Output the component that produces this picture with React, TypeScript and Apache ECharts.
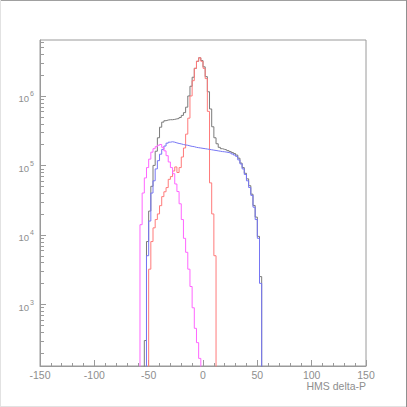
import React, { useEffect, useRef } from "react";
import * as echarts from "echarts";

// Bin left edges (HMS delta-P), bin width 2
const binEdges: number[] = [
  -60, -58, -56, -54, -52, -50, -48, -46, -44, -42, -40, -38, -36, -34, -32, -30,
  -28, -26, -24, -22, -20, -18, -16, -14, -12, -10, -8, -6, -4, -2, 0, 2, 4, 6,
  8, 10, 12, 14, 16, 18, 20, 22, 24, 26, 28, 30, 32, 34, 36, 38, 40, 42, 44, 46,
  48, 50, 52, 54, 56,
];
const binWidth = 2;

const totalCounts: number[] = [
  0, 0, 0, 300, 8000, 22000, 50000, 100000, 160000, 250000, 355000, 420000, 440000, 450000, 455000, 455000,
  460000, 468000, 473000, 490000, 525000, 575000, 690000, 1000000, 1380000, 1860000, 2500000, 3160000, 3550000, 3240000, 2630000, 1900000, 1150000, 650000,
  360000, 250000, 205000, 182000, 174000, 170000, 167000, 163000, 158000, 153000, 148000, 141000, 127000, 108000, 93000, 77000, 64000, 51000, 38500, 26500,
  18000, 9500, 2500, 0, 0,
];

const peakCounts: number[] = [
  0, 0, 0, 0, 0, 3200, 8000, 12600, 16600, 20000, 26300, 35500, 41700, 47900, 63000, 69000,
  83000, 95000, 79000, 93000, 132000, 178000, 282000, 479000, 1000000, 1660000, 2500000, 3160000, 3550000, 3160000, 2500000, 1780000, 600000, 56000,
  20000, 5000, 0, 0, 0, 0, 0, 0, 0, 0, 0, 0, 0, 0, 0, 0, 0, 0, 0, 0,
  0, 0, 0, 0, 0,
];

const flatCounts: number[] = [
  0, 0, 0, 0, 5000, 15800, 40000, 60000, 89000, 117000, 145000, 170000, 190000, 209000, 216000, 219000,
  216000, 211000, 207000, 204000, 200000, 197000, 195000, 191000, 188000, 186000, 182000, 180000, 178000, 176000, 174000, 172000, 170000, 168000,
  166000, 164000, 162000, 160000, 158000, 157000, 155000, 153000, 150000, 146000, 141000, 135000, 120000, 105000, 89000, 74000, 60000, 48000, 37000, 25000,
  16600, 8900, 2000, 0, 0,
];

const leftCounts: number[] = [
  0, 14000, 40000, 66000, 93000, 123000, 155000, 174000, 186000, 195000, 200000, 182000, 162000, 138000, 112000, 93000,
  76000, 54000, 42000, 28000, 16600, 8900, 5600, 3200, 1800, 890, 450, 280, 166, 0, 0, 0, 0, 0,
  0, 0, 0, 0, 0, 0, 0, 0, 0, 0, 0, 0, 0, 0, 0, 0, 0, 0, 0, 0,
  0, 0, 0, 0, 0,
];

const xTicks = { min: -150, max: 150, interval: 50 };
const yRange = { min: 129, max: 6.4e6 };
const yMinorTickValues: number[] = [
  200, 300, 400, 500, 600, 700, 800, 900,
  2000, 3000, 4000, 5000, 6000, 7000, 8000, 9000,
  20000, 30000, 40000, 50000, 60000, 70000, 80000, 90000,
  200000, 300000, 400000, 500000, 600000, 700000, 800000, 900000,
  2000000, 3000000, 4000000, 5000000, 6000000,
];
const xAxisTitle = "HMS delta-P";

const FLOOR = 1; // empty bins drawn below the axis minimum (clipped)

function toSteps(values: number[]): [number, number][] {
  const pts: [number, number][] = binEdges.map((e, i) => [e, values[i] > 0 ? values[i] : FLOOR]);
  pts.push([binEdges[binEdges.length - 1] + binWidth, FLOOR]);
  return pts;
}

const GRID = { left: 40, top: 40, right: 41, bottom: 41 };
const AXIS_GREY = "#9a9a9a";
const TEXT_GREY = "#8e8e8e";
const FONT = "'Liberation Sans', Arial, sans-serif";

export default function App() {
  const ref = useRef<HTMLDivElement>(null);
  useEffect(() => {
    if (!ref.current) return;
    const chart = echarts.init(ref.current, undefined, { renderer: "svg" });
    const mk = (name: string, values: number[], color: string) => ({
      name,
      type: "line",
      step: "end",
      data: toSteps(values),
      showSymbol: false,
      symbol: "none",
      clip: true,
      lineStyle: { color, width: 1 },
      itemStyle: { color },
      z: 3,
    });
    chart.setOption({
      animation: false,
      backgroundColor: "#ffffff",
      grid: {
        left: GRID.left,
        top: GRID.top,
        right: GRID.right,
        bottom: GRID.bottom,
        show: true,
        borderColor: AXIS_GREY,
        borderWidth: 1,
        containLabel: false,
        outerBoundsMode: "none",
      },
      xAxis: {
        type: "value",
        min: xTicks.min,
        max: xTicks.max,
        interval: xTicks.interval,
        axisLine: { show: true, onZero: false, lineStyle: { color: AXIS_GREY, width: 1 } },
        axisTick: { show: true, inside: true, length: 6, lineStyle: { color: AXIS_GREY } },
        minorTick: { show: true, splitNumber: 5, length: 3, lineStyle: { color: AXIS_GREY } },
        splitLine: { show: false },
        axisLabel: {
          color: TEXT_GREY,
          fontSize: 10.5,
          fontFamily: FONT,
          margin: 3,
          formatter: (v: number) => String(v),
        },
      },
      yAxis: {
        type: "log",
        logBase: 10,
        min: yRange.min,
        max: yRange.max,
        axisLine: { show: true, onZero: false, lineStyle: { color: AXIS_GREY, width: 1 } },
        axisTick: { show: true, inside: true, length: 6, lineStyle: { color: AXIS_GREY } },
        minorTick: { show: false },
        splitLine: { show: false },
        axisLabel: {
          showMinLabel: false,
          showMaxLabel: false,
          margin: 6,
          formatter: (v: number) => `{b|10}{e|${Math.round(Math.log10(v))}}`,
          rich: {
            b: { fontSize: 9.5, color: TEXT_GREY, fontFamily: FONT, padding: [6, 0, 0, 0] },
            e: { fontSize: 7, color: TEXT_GREY, fontFamily: FONT, padding: [0, 0, 4, 1] },
          },
        },
      },
      series: [
        mk("total", totalCounts, "#7a7a7a"),
        mk("peak", peakCounts, "#ff7a7a"),
        mk("flat", flatCounts, "#7676f4"),
        mk("left", leftCounts, "#ff66ff"),
      ],
    });

    const x0 = chart.convertToPixel({ xAxisIndex: 0 }, xTicks.min) as number;
    const x1 = chart.convertToPixel({ xAxisIndex: 0 }, xTicks.max) as number;
    const yBottom = chart.convertToPixel({ yAxisIndex: 0 }, yRange.min) as number;
    const minorTicks = yMinorTickValues.map((v) => {
      const y = Math.round(chart.convertToPixel({ yAxisIndex: 0 }, v) as number) + 0.5;
      return {
        type: "line",
        shape: { x1: x0, y1: y, x2: x0 + 4, y2: y },
        style: { stroke: AXIS_GREY, lineWidth: 1 },
        silent: true,
      };
    });
    chart.setOption({
      graphic: [
        ...minorTicks,
        {
          type: "text",
          x: x1,
          y: yBottom + 20,
          style: {
            text: xAxisTitle,
            fill: TEXT_GREY,
            font: `10.5px ${FONT}`,
            align: "right",
            verticalAlign: "middle",
          },
        },
        { type: "line", shape: { x1: 0, y1: 0.5, x2: 407, y2: 0.5 }, style: { stroke: "#a0a0a0", lineWidth: 1 } },
        { type: "line", shape: { x1: 406.5, y1: 0, x2: 406.5, y2: 407 }, style: { stroke: "#909090", lineWidth: 1 } },
        { type: "line", shape: { x1: 0.5, y1: 0, x2: 0.5, y2: 407 }, style: { stroke: "#e2e2e2", lineWidth: 1 } },
        { type: "line", shape: { x1: 0, y1: 406.5, x2: 406, y2: 406.5 }, style: { stroke: "#e2e2e2", lineWidth: 1 } },
      ],
    });
    return () => chart.dispose();
  }, []);
  return (
    <div
      ref={ref}
      style={{ position: "absolute", left: 0, top: 0, width: 407, height: 407 }}
    />
  );
}
